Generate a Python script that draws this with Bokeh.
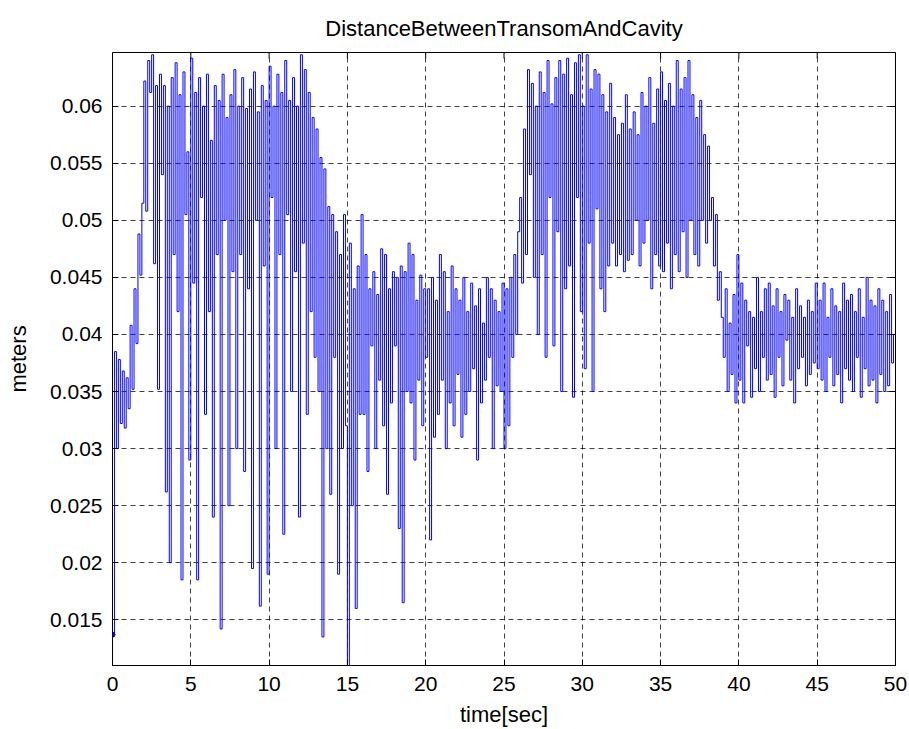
import numpy as np
from bokeh.plotting import figure
from bokeh.models import Range1d, FixedTicker, LinearAxis, CustomJSTickFormatter
from bokeh.embed import file_html
from bokeh.resources import INLINE

title_text = "DistanceBetweenTransomAndCavity"
x_label = "time[sec]"
y_label = "meters"
x_ticks = [0, 5, 10, 15, 20, 25, 30, 35, 40, 45, 50]
y_ticks = [0.015, 0.02, 0.025, 0.03, 0.035, 0.04, 0.045, 0.05, 0.055, 0.06]

sample_interval = 0.125  # seconds between samples
# distance in units of 0.1 mm, 8 samples per second (one row per second)
distance_01mm = [
    137, 385, 300, 378, 322, 368, 318, 362,
    335, 408, 352, 440, 392, 488, 452, 515,
    622, 508, 640, 612, 645, 462, 618, 352,
    628, 540, 618, 262, 600, 200, 625, 470,
    638, 420, 610, 185, 630, 505, 560, 290,
    642, 445, 612, 185, 625, 520, 600, 330,
    628, 420, 570, 240, 618, 470, 605, 142,
    628, 500, 590, 250, 610, 455, 632, 300,
    600, 470, 625, 280, 598, 440, 615, 195,
    630, 500, 595, 162, 618, 460, 605, 190,
    635, 520, 600, 300, 628, 470, 612, 225,
    640, 505, 605, 350, 625, 455, 600, 240,
    645, 480, 632, 330, 612, 420, 590, 380,
    580, 350, 555, 135, 545, 300, 512, 260,
    505, 380, 490, 190, 470, 300, 505, 320,
    110, 480, 250, 440, 160, 460, 330, 505,
    330, 470, 280, 440, 390, 455, 300, 435,
    360, 475, 320, 470, 260, 440, 340, 455,
    390, 450, 230, 460, 165, 455, 350, 480,
    340, 470, 290, 430, 360, 452, 320, 440,
    380, 440, 220, 450, 310, 430, 330, 470,
    360, 455, 300, 420, 340, 460, 320, 440,
    365, 430, 310, 450, 330, 420, 350, 445,
    370, 425, 290, 440, 340, 410, 360, 450,
    380, 440, 300, 430, 355, 420, 350, 445,
    300, 440, 320, 450, 380, 470, 400, 490,
    520, 445, 580, 470, 632, 540, 620, 450,
    600, 400, 630, 470, 612, 380, 640, 520,
    602, 390, 625, 490, 640, 350, 628, 440,
    642, 460, 610, 345, 638, 520, 645, 420,
    600, 370, 645, 480, 615, 350, 632, 510,
    628, 440, 610, 420, 595, 460, 620, 480,
    590, 460, 575, 470, 585, 455, 610, 465,
    580, 470, 595, 500, 575, 460, 612, 480,
    600, 500, 625, 440, 585, 470, 615, 460,
    630, 455, 605, 480, 620, 440, 600, 470,
    640, 455, 615, 490, 625, 450, 640, 500,
    610, 470, 590, 460, 605, 500, 575, 480,
    565, 500, 520, 460, 505, 430, 455, 415,
    380, 440, 350, 410, 365, 435, 340, 470,
    360, 445, 340, 430, 390, 420, 345, 415,
    370, 450, 350, 420, 380, 440, 360, 445,
    365, 425, 345, 440, 380, 420, 355, 435,
    395, 430, 360, 415, 340, 440, 370, 425,
    380, 415, 355, 430, 365, 420, 375, 445,
    370, 430, 360, 445, 350, 415, 380, 440,
    355, 425, 365, 420, 340, 445, 370, 430,
    360, 435, 350, 420, 380, 440, 345, 415,
    370, 450, 355, 430, 360, 425, 340, 440,
    365, 430, 350, 420, 355, 435, 375, 400,
    405,
]

y = np.array(distance_01mm) * 1e-4
t = np.arange(len(y)) * sample_interval

FONT = "Liberation Sans"
Y_MIN, Y_MAX = 0.011, 0.0647
FRAME_H = 729 - 52 - 63

p = figure(width=909, height=729, output_backend="svg", toolbar_location=None,
           x_range=Range1d(0, 50), y_range=Range1d(Y_MIN, Y_MAX),
           min_border_left=112, min_border_right=14, min_border_top=52, min_border_bottom=63,
           title=title_text)
p.background_fill_color = "white"
p.border_fill_color = "white"
p.outline_line_color = "black"
p.outline_line_width = 1

p.title.align = "center"
p.title.text_font = FONT
p.title.text_font_size = "22px"
p.title.text_font_style = "normal"
p.title.text_color = "black"
p.title.standoff = 24

for g in (p.xgrid[0], p.ygrid[0]):
    g.grid_line_color = "black"
    g.grid_line_alpha = 0.75
    g.grid_line_dash = "5 4"
    g.grid_line_width = 1
p.xgrid[0].ticker = FixedTicker(ticks=x_ticks)
p.ygrid[0].ticker = FixedTicker(ticks=y_ticks)

p.step(t, y, mode="after", line_color="#0000ff", line_width=1)
p.scatter(t[:1], y[:1], size=5, color="#0000ff")

# inward tick marks along the top edge (box style), length 6 px
tick_len = 6 * (Y_MAX - Y_MIN) / FRAME_H
p.segment(x0=x_ticks, x1=x_ticks, y0=[Y_MAX] * len(x_ticks),
          y1=[Y_MAX - tick_len] * len(x_ticks), line_color="black", line_width=1)

fmt = CustomJSTickFormatter(code="return String(Number(tick.toFixed(4)));")

for ax in (p.xaxis[0], p.yaxis[0]):
    ax.major_label_text_font = FONT
    ax.major_label_text_font_size = "21px"
    ax.major_label_text_color = "black"
    ax.axis_label_text_font = FONT
    ax.axis_label_text_font_size = "22px"
    ax.axis_label_text_font_style = "normal"
    ax.axis_label_text_color = "black"
    ax.major_tick_in = 6
    ax.major_tick_out = 0
    ax.minor_tick_line_color = None
    ax.axis_line_color = "black"
    ax.major_tick_line_color = "black"

p.xaxis[0].ticker = FixedTicker(ticks=x_ticks)
p.yaxis[0].ticker = FixedTicker(ticks=y_ticks)
p.yaxis[0].formatter = fmt
p.xaxis[0].axis_label = x_label
p.yaxis[0].axis_label = y_label
p.xaxis[0].major_label_standoff = 11
p.xaxis[0].axis_label_standoff = 8
p.yaxis[0].major_label_standoff = 10
p.yaxis[0].axis_label_standoff = 16

blank = CustomJSTickFormatter(code="return '';")
rax = LinearAxis(ticker=FixedTicker(ticks=y_ticks), formatter=blank)
rax.major_label_text_color = None
rax.major_label_text_font_size = "1px"
rax.major_label_standoff = 0
rax.major_tick_in = 6
rax.major_tick_out = 0
rax.minor_tick_line_color = None
rax.axis_line_color = "black"
rax.major_tick_line_color = "black"
p.add_layout(rax, "right")

open("out.html", "w").write(file_html(p, INLINE))
